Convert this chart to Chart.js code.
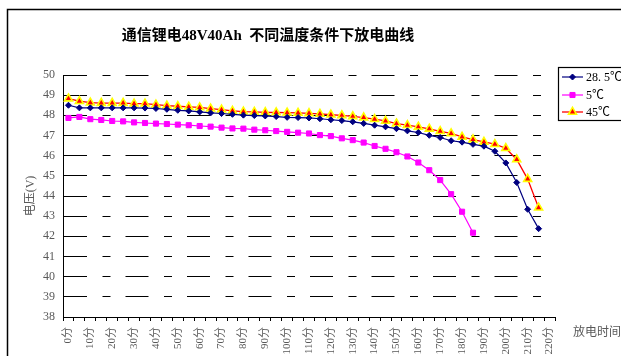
<!DOCTYPE html>
<html>
<head>
<meta charset="utf-8">
<script src="https://cdn.jsdelivr.net/npm/chart.js@4.4.0/dist/chart.umd.min.js"></script>
<style>
  html, body { margin: 0; padding: 0; background: #fff; overflow: hidden; }
  #wrap { width: 621px; height: 356px; position: relative; }
</style>
</head>
<body>
<div id="wrap"><canvas id="c" width="621" height="356"></canvas></div>
<script>
// Discharge time in minutes (one sample every 5 minutes)
const categories = ['0分','5分','10分','15分','20分','25分','30分','35分','40分','45分',
  '50分','55分','60分','65分','70分','75分','80分','85分','90分','95分',
  '100分','105分','110分','115分','120分','125分','130分','135分','140分','145分',
  '150分','155分','160分','165分','170分','175分','180分','185分','190分','195分',
  '200分','205分','210分','215分','220分'];

// Voltage readings (V)
const volt285 = [48.50,48.37,48.37,48.37,48.37,48.37,48.37,48.36,48.34,48.30,
  48.25,48.22,48.17,48.12,48.09,48.05,48.01,47.99,47.97,47.94,
  47.90,47.89,47.87,47.83,47.78,47.74,47.68,47.60,47.51,47.43,
  47.34,47.23,47.15,47.01,46.90,46.74,46.67,46.56,46.47,46.22,
  45.64,44.67,43.34,42.38];
const volt5 = [47.87,47.92,47.81,47.77,47.72,47.70,47.65,47.62,47.59,47.57,
  47.54,47.51,47.47,47.44,47.39,47.35,47.34,47.29,47.26,47.22,
  47.18,47.14,47.10,47.02,46.97,46.86,46.77,46.65,46.48,46.34,
  46.17,45.96,45.66,45.28,44.79,44.09,43.22,42.18];
const volt45 = [48.83,48.70,48.63,48.61,48.61,48.61,48.58,48.58,48.53,48.48,
  48.45,48.42,48.39,48.33,48.28,48.22,48.18,48.17,48.15,48.14,
  48.13,48.12,48.10,48.07,48.03,48.00,47.95,47.89,47.81,47.72,
  47.59,47.51,47.43,47.33,47.21,47.10,46.93,46.80,46.68,46.57,
  46.37,45.81,44.84,43.42];

const seriesNames = ['28. 5℃', '5℃', '45℃'];
const yTicks = { min: 38, max: 50, step: 1 };

const chartTitle = '通信锂电48V40Ah  不同温度条件下放电曲线';
const yAxisTitle = '电压(V)';
const xAxisTitle = '放电时间';

const serif = '"Liberation Serif", "Noto Sans CJK SC", serif';
const grayText = '#595959';

// Frame, title, x-axis caption and legend box
const decorations = {
  id: 'decorations',
  beforeDraw(chart) {
    const ctx = chart.ctx;
    ctx.save();
    ctx.fillStyle = '#fff';
    ctx.fillRect(0, 0, chart.width, chart.height);
    ctx.strokeStyle = '#000';
    ctx.lineWidth = 1.5;
    ctx.strokeRect(7.5, 9.5, chart.width + 20, chart.height + 20);
    ctx.restore();
  },
  afterDraw(chart) {
    const ctx = chart.ctx;
    ctx.save();
    // title
    ctx.fillStyle = '#000';
    ctx.font = 'bold 15px ' + serif;
    ctx.textAlign = 'center';
    ctx.textBaseline = 'middle';
    ctx.fillText(chartTitle, 268, 36);

    // x-axis caption to the right of the axis
    ctx.fillStyle = grayText;
    ctx.font = '12px ' + serif;
    ctx.textAlign = 'left';
    ctx.fillText(xAxisTitle, 573, 333);

    // legend
    ctx.strokeStyle = '#000';
    ctx.lineWidth = 1.2;
    ctx.strokeRect(558.5, 67.5, 90, 53);
    const rowsY = [77, 95, 112];
    chart.data.datasets.forEach((ds, i) => {
      const y = rowsY[i];
      ctx.strokeStyle = ds.borderColor;
      ctx.lineWidth = ds.borderWidth;
      ctx.beginPath();
      ctx.moveTo(562, y);
      ctx.lineTo(583, y);
      ctx.stroke();
      drawMarker(ctx, ds, 572.5, y);
      ctx.fillStyle = '#000';
      ctx.font = '12px ' + serif;
      ctx.textAlign = 'left';
      ctx.textBaseline = 'middle';
      ctx.fillText(ds.label, 586, y + 1);
    });
    ctx.restore();
  }
};

function drawMarker(ctx, ds, x, y) {
  const r = ds.pointRadius;
  ctx.save();
  ctx.fillStyle = ds.pointBackgroundColor;
  ctx.strokeStyle = ds.pointBorderColor;
  ctx.lineWidth = ds.pointBorderWidth;
  ctx.beginPath();
  if (ds.pointStyle === 'rectRot') {
    ctx.moveTo(x, y - r); ctx.lineTo(x + r, y); ctx.lineTo(x, y + r); ctx.lineTo(x - r, y);
  } else if (ds.pointStyle === 'rect') {
    const s = r * Math.SQRT1_2;
    ctx.rect(x - s, y - s, 2 * s, 2 * s);
  } else {
    ctx.moveTo(x, y - r);
    ctx.lineTo(x + r * Math.sin(Math.PI * 2 / 3), y - r * Math.cos(Math.PI * 2 / 3));
    ctx.lineTo(x - r * Math.sin(Math.PI * 2 / 3), y - r * Math.cos(Math.PI * 2 / 3));
  }
  ctx.closePath();
  ctx.fill();
  ctx.stroke();
  ctx.restore();
}

new Chart(document.getElementById('c'), {
  type: 'line',
  data: {
    labels: categories,
    datasets: [
      {
        label: seriesNames[0], data: volt285,
        borderColor: '#000080', borderWidth: 1.2,
        pointStyle: 'rectRot', pointRadius: 3,
        pointBackgroundColor: '#000080', pointBorderColor: '#000080', pointBorderWidth: 1
      },
      {
        label: seriesNames[1], data: volt5,
        borderColor: '#ff00ff', borderWidth: 1.2,
        pointStyle: 'rect', pointRadius: 3.6,
        pointBackgroundColor: '#ff00ff', pointBorderColor: '#ff00ff', pointBorderWidth: 1
      },
      {
        label: seriesNames[2], data: volt45,
        borderColor: '#ff0000', borderWidth: 1.3,
        pointStyle: 'triangle', pointRadius: 4.6,
        pointBackgroundColor: '#ff0000', pointBorderColor: '#ffff00', pointBorderWidth: 1.6
      }
    ]
  },
  options: {
    responsive: false,
    animation: false,
    devicePixelRatio: 1,
    layout: { padding: { left: 0, right: 66, top: 75, bottom: 0 } },
    elements: { line: { tension: 0 } },
    plugins: {
      legend: { display: false },
      title: { display: false },
      tooltip: { enabled: false }
    },
    scales: {
      x: {
        type: 'category',
        offset: true,
        afterFit(scale) { scale.height = 39; },
        grid: {
          offset: true,
          drawOnChartArea: false,
          drawTicks: true,
          tickLength: 4,
          color: '#000',
          lineWidth: 1
        },
        border: { display: true, color: '#000', width: 1 },
        ticks: {
          autoSkip: false,
          maxRotation: 90,
          minRotation: 90,
          padding: 6,
          color: grayText,
          font: { family: serif, size: 11 },
          callback(value, index) { return index % 2 === 0 ? categories[index] : ''; }
        }
      },
      y: {
        min: yTicks.min,
        max: yTicks.max,
        afterFit(scale) { scale.width = 63; },
        grid: {
          drawTicks: false,
          color: '#000',
          lineWidth: 1
        },
        border: { display: true, color: '#000', width: 1, dash: [23, 15.5, 8, 15] },
        ticks: {
          stepSize: yTicks.step,
          padding: 8,
          color: grayText,
          font: { family: serif, size: 12 }
        },
        title: {
          display: true,
          text: yAxisTitle,
          color: grayText,
          font: { family: serif, size: 12 },
          padding: { top: 24, bottom: 0 }
        }
      }
    }
  },
  plugins: [decorations]
});
</script>
</body>
</html>
